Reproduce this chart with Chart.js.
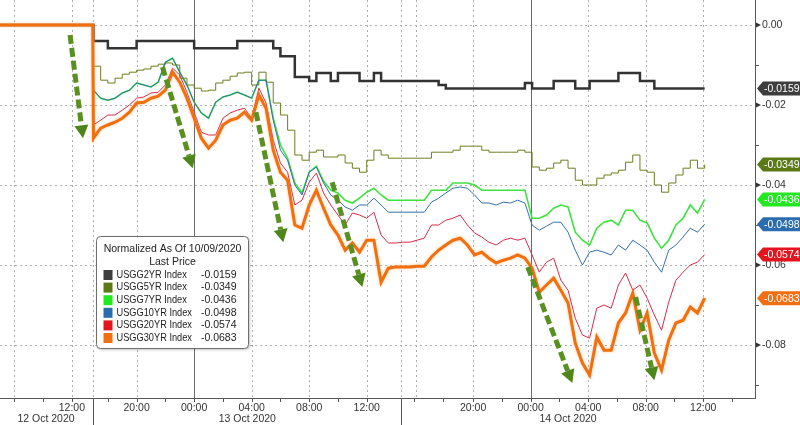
<!DOCTYPE html>
<html>
<head>
<meta charset="utf-8">
<title>US Treasury yields, normalized</title>
<script src="https://cdn.jsdelivr.net/npm/chart.js"></script>
<style>
  html, body { margin: 0; padding: 0; background: #fff; }
  #wrap { width: 800px; height: 425px; }
</style>
</head>
<body>
<div id="wrap"><canvas id="chart" width="800" height="425"></canvas></div>
<script>
// chart time in hours (session gaps squeezed out), one sample every half hour
var hours = [0, 6.45,
  6.5, 7, 7.5, 8, 8.5, 9, 9.5, 10, 10.5, 11, 11.5, 12, 12.5, 13, 13.5, 14, 14.5, 15, 15.5, 16, 16.5, 17,
  17.5, 18, 18.5, 19, 19.5, 20, 20.5, 21, 21.5, 22, 22.5, 23, 23.5, 24, 24.5, 25, 25.5, 26, 26.5, 27, 27.5, 28,
  28.5, 29, 29.5, 30, 30.5, 31, 31.5, 32, 32.5, 33, 33.5, 34, 34.5, 35, 35.5, 36, 36.5, 37, 37.5, 38, 38.5,
  39, 39.5, 40, 40.5, 41, 41.5, 42, 42.5, 43, 43.5, 44, 44.5, 45, 45.5, 46, 46.5, 47, 47.5, 48, 48.5, 49];

var usgg2yr = [0, 0,
  -0.0040,-0.0040,-0.0058,-0.0058,-0.0058,-0.0058,-0.0040,-0.0040,-0.0040,-0.0040,-0.0040,-0.0040,-0.0040,-0.0040,-0.0058,-0.0058,-0.0058,-0.0058,-0.0058,-0.0058,-0.0040,-0.0040,
  -0.0040,-0.0040,-0.0040,-0.0058,-0.0078,-0.0078,-0.0130,-0.0130,-0.0140,-0.0120,-0.0120,-0.0140,-0.0120,-0.0120,-0.0120,-0.0140,-0.0140,-0.0120,-0.0140,-0.0140,-0.0140,-0.0140,
  -0.0140,-0.0140,-0.0140,-0.0140,-0.0150,-0.0159,-0.0159,-0.0159,-0.0159,-0.0159,-0.0159,-0.0159,-0.0159,-0.0159,-0.0159,-0.0159,-0.0145,-0.0159,-0.0159,-0.0159,-0.0140,
  -0.0140,-0.0140,-0.0159,-0.0159,-0.0140,-0.0140,-0.0140,-0.0140,-0.0120,-0.0120,-0.0120,-0.0140,-0.0140,-0.0159,-0.0159,-0.0159,-0.0159,-0.0159,-0.0159,-0.0159,-0.0159];

var usgg5yr = [0, 0,
  -0.0103,-0.0138,-0.0145,-0.0133,-0.0123,-0.0118,-0.0113,-0.0110,-0.0103,-0.0098,-0.0095,-0.0100,-0.0133,-0.0150,-0.0158,-0.0165,-0.0163,-0.0145,-0.0138,-0.0128,-0.0120,-0.0118,
  -0.0150,-0.0118,-0.0143,-0.0195,-0.0225,-0.0263,-0.0325,-0.0338,-0.0318,-0.0313,-0.0330,-0.0330,-0.0325,-0.0345,-0.0358,-0.0368,-0.0338,-0.0313,-0.0325,-0.0333,-0.0333,-0.0333,
  -0.0333,-0.0333,-0.0333,-0.0318,-0.0318,-0.0318,-0.0313,-0.0303,-0.0303,-0.0303,-0.0313,-0.0318,-0.0318,-0.0318,-0.0318,-0.0313,-0.0318,-0.0355,-0.0363,-0.0358,-0.0345,
  -0.0338,-0.0358,-0.0388,-0.0400,-0.0400,-0.0383,-0.0375,-0.0370,-0.0363,-0.0343,-0.0325,-0.0363,-0.0368,-0.0400,-0.0418,-0.0395,-0.0375,-0.0358,-0.0338,-0.0358,-0.0349];

var usgg7yr = [0, 0,
  -0.0163,-0.0183,-0.0188,-0.0183,-0.0170,-0.0163,-0.0145,-0.0150,-0.0155,-0.0143,-0.0093,-0.0083,-0.0118,-0.0150,-0.0193,-0.0220,-0.0233,-0.0193,-0.0180,-0.0175,-0.0168,-0.0175,
  -0.0183,-0.0138,-0.0138,-0.0233,-0.0300,-0.0333,-0.0395,-0.0420,-0.0368,-0.0353,-0.0390,-0.0413,-0.0420,-0.0438,-0.0445,-0.0433,-0.0418,-0.0408,-0.0425,-0.0438,-0.0438,-0.0438,
  -0.0438,-0.0438,-0.0438,-0.0413,-0.0413,-0.0413,-0.0395,-0.0395,-0.0395,-0.0400,-0.0413,-0.0413,-0.0413,-0.0413,-0.0413,-0.0413,-0.0413,-0.0483,-0.0483,-0.0475,-0.0458,
  -0.0450,-0.0455,-0.0518,-0.0538,-0.0550,-0.0508,-0.0493,-0.0488,-0.0500,-0.0463,-0.0463,-0.0488,-0.0495,-0.0533,-0.0558,-0.0538,-0.0500,-0.0483,-0.0450,-0.0470,-0.0436];

var usgg10yr = [0, 0,
  -0.0163,-0.0183,-0.0188,-0.0183,-0.0170,-0.0163,-0.0145,-0.0150,-0.0155,-0.0143,-0.0093,-0.0083,-0.0118,-0.0150,-0.0193,-0.0220,-0.0233,-0.0193,-0.0180,-0.0175,-0.0168,-0.0175,
  -0.0183,-0.0138,-0.0138,-0.0238,-0.0313,-0.0338,-0.0400,-0.0425,-0.0368,-0.0355,-0.0395,-0.0425,-0.0438,-0.0455,-0.0463,-0.0450,-0.0450,-0.0433,-0.0450,-0.0468,-0.0468,-0.0468,
  -0.0468,-0.0468,-0.0468,-0.0443,-0.0433,-0.0420,-0.0408,-0.0405,-0.0408,-0.0425,-0.0445,-0.0445,-0.0450,-0.0443,-0.0445,-0.0438,-0.0445,-0.0500,-0.0513,-0.0503,-0.0493,
  -0.0493,-0.0518,-0.0563,-0.0600,-0.0568,-0.0563,-0.0568,-0.0575,-0.0550,-0.0563,-0.0538,-0.0550,-0.0563,-0.0593,-0.0618,-0.0563,-0.0550,-0.0530,-0.0508,-0.0518,-0.0498];

var usgg20yr = [0, 0,
  -0.0250,-0.0238,-0.0225,-0.0225,-0.0213,-0.0200,-0.0183,-0.0180,-0.0170,-0.0168,-0.0150,-0.0108,-0.0125,-0.0168,-0.0218,-0.0268,-0.0275,-0.0275,-0.0233,-0.0220,-0.0213,-0.0208,
  -0.0233,-0.0158,-0.0195,-0.0288,-0.0345,-0.0368,-0.0450,-0.0438,-0.0393,-0.0370,-0.0420,-0.0450,-0.0475,-0.0500,-0.0470,-0.0475,-0.0483,-0.0468,-0.0525,-0.0545,-0.0545,-0.0543,
  -0.0543,-0.0538,-0.0533,-0.0500,-0.0500,-0.0488,-0.0483,-0.0475,-0.0500,-0.0520,-0.0530,-0.0543,-0.0550,-0.0538,-0.0533,-0.0538,-0.0533,-0.0575,-0.0618,-0.0593,-0.0583,
  -0.0638,-0.0663,-0.0733,-0.0775,-0.0783,-0.0708,-0.0700,-0.0708,-0.0650,-0.0620,-0.0663,-0.0650,-0.0683,-0.0725,-0.0763,-0.0693,-0.0638,-0.0618,-0.0600,-0.0593,-0.0574];

var usgg30yr = [0, 0,
  -0.0283,-0.0258,-0.0250,-0.0243,-0.0233,-0.0218,-0.0195,-0.0193,-0.0183,-0.0178,-0.0163,-0.0118,-0.0143,-0.0183,-0.0233,-0.0283,-0.0308,-0.0288,-0.0250,-0.0238,-0.0233,-0.0218,
  -0.0238,-0.0175,-0.0208,-0.0313,-0.0368,-0.0388,-0.0500,-0.0508,-0.0450,-0.0413,-0.0458,-0.0500,-0.0525,-0.0563,-0.0545,-0.0568,-0.0538,-0.0538,-0.0643,-0.0608,-0.0605,-0.0605,
  -0.0605,-0.0603,-0.0603,-0.0580,-0.0563,-0.0550,-0.0538,-0.0533,-0.0550,-0.0575,-0.0568,-0.0583,-0.0595,-0.0588,-0.0583,-0.0575,-0.0583,-0.0608,-0.0668,-0.0650,-0.0633,
  -0.0663,-0.0695,-0.0795,-0.0845,-0.0875,-0.0780,-0.0813,-0.0813,-0.0745,-0.0720,-0.0670,-0.0763,-0.0720,-0.0820,-0.0863,-0.0788,-0.0745,-0.0738,-0.0705,-0.0720,-0.0683];

var seriesNames = ['USGG2YR Index', 'USGG5YR Index', 'USGG7YR Index', 'USGG10YR Index', 'USGG20YR Index', 'USGG30YR Index'];
var seriesValues = [usgg2yr, usgg5yr, usgg7yr, usgg10yr, usgg20yr, usgg30yr];

// axis labels
var timeLabels = ['12:00', '20:00', '00:00', '04:00', '08:00', '12:00', '20:00', '00:00', '04:00', '08:00', '12:00'];
var timeLabelHours = [5.0, 9.5, 13.5, 17.5, 21.5, 25.5, 32.9, 36.9, 40.9, 44.9, 48.9];
var dayLabels = ['12 Oct 2020', '13 Oct 2020', '14 Oct 2020'];
var dayLabelHours = [3.2, 17.2, 39.5];
var daySplitHours = [6.45, 27.85];
var minorTickHours = [1, 3, 5, 7.5, 9.5, 11.5, 13.5, 15.5, 17.5, 19.5, 21.5, 23.5, 25.5, 28.8, 30.8, 32.9, 34.9, 36.9, 38.9, 40.9, 42.9, 44.9, 46.9, 48.9, 50.9];
var gridHours = [1, 5, 6.45, 9.5, 17.5, 21.5, 25.5, 27.85, 28.9, 32.9, 40.9, 44.9, 48.9];
var midnightHours = [13.5, 36.9];
var yTickValues = [0, -0.01, -0.02, -0.03, -0.04, -0.05, -0.06, -0.07, -0.08, -0.09];
var yLabelValues = [0, -0.02, -0.04, -0.06, -0.08];

// green arrows drawn on the chart: [hour, value] start and end
var arrowFrom = [[4.87, -0.0025], [11.3, -0.0105], [17.8, -0.0218], [23.1, -0.0393], [36.7, -0.0605], [44.2, -0.0680]];
var arrowTo = [[5.77, -0.0283], [13.4, -0.0358], [19.7, -0.0543], [25.2, -0.0655], [39.8, -0.0895], [45.5, -0.0888]];

var lineColors = ['#333333', '#6f7e22', '#3ee23e', '#3470a8', '#d52c48', '#f0700f'];
var tagColors = ['#3d3d3d', '#5b7a17', '#22e822', '#2b6cae', '#e3141d', '#f06f12'];
var lineWidths = [2.5, 1, 1.6, 1, 1, 3];
var stepLines = [true, true, false, false, false, false];
var drawOrder = [5, 3, 4, 2, 1, 0];

var FONT = '10.5px "Liberation Sans", Arial, sans-serif';

var datasets = seriesValues.map(function (vals, i) {
    return {
        label: seriesNames[i],
        data: vals.map(function (v, k) { return { x: hours[k], y: v }; }),
        borderColor: lineColors[i],
        borderWidth: lineWidths[i],
        stepped: stepLines[i],
        pointRadius: 0,
        tension: 0,
        order: drawOrder[i]
    };
});

function seg(ctx, x1, y1, x2, y2) {
    ctx.beginPath(); ctx.moveTo(x1, y1); ctx.lineTo(x2, y2); ctx.stroke();
}

function drawArrow(ctx, x1, y1, x2, y2) {
    var ang = Math.atan2(y2 - y1, x2 - x1);
    var headLen = 13, headW = 7;
    var bx = x2 - headLen * Math.cos(ang), by = y2 - headLen * Math.sin(ang);
    ctx.strokeStyle = '#5a8f22';
    ctx.lineWidth = 5;
    ctx.lineCap = 'butt';
    ctx.setLineDash([9, 4]);
    seg(ctx, x1, y1, bx, by);
    ctx.setLineDash([]);
    ctx.fillStyle = '#4f861b';
    ctx.beginPath();
    ctx.moveTo(x2, y2);
    ctx.lineTo(bx + headW * Math.sin(ang), by - headW * Math.cos(ang));
    ctx.lineTo(bx - headW * Math.sin(ang), by + headW * Math.cos(ang));
    ctx.closePath();
    ctx.fill();
}

var overlay = {
    id: 'overlay',
    beforeDatasetsDraw: function (chart) {
        var ctx = chart.ctx, a = chart.chartArea, x = chart.scales.x, y = chart.scales.y;
        ctx.save();
        ctx.lineWidth = 1;
        ctx.strokeStyle = '#b0b0b0';
        ctx.setLineDash([2, 3]);
        yLabelValues.forEach(function (v) {
            var py = Math.round(y.getPixelForValue(v)) + 0.5;
            seg(ctx, a.left, py, a.right, py);
        });
        gridHours.forEach(function (h) {
            var px = Math.round(x.getPixelForValue(h)) + 0.5;
            seg(ctx, px, a.top, px, a.bottom);
        });
        ctx.setLineDash([]);
        ctx.strokeStyle = '#6a6a6a';
        midnightHours.forEach(function (h) {
            var px = Math.round(x.getPixelForValue(h)) + 0.5;
            seg(ctx, px, a.top, px, a.bottom);
        });
        ctx.restore();
    },
    beforeDatasetDraw: function (chart, args) {
        if (args.index === 5) {
            chart.ctx.shadowColor = 'rgba(255,160,90,0.6)';
            chart.ctx.shadowBlur = 3;
        }
    },
    afterDatasetDraw: function (chart, args) {
        if (args.index === 5) {
            chart.ctx.shadowColor = 'rgba(0,0,0,0)';
            chart.ctx.shadowBlur = 0;
        }
    },
    afterDatasetsDraw: function (chart) {
        var ctx = chart.ctx, x = chart.scales.x, y = chart.scales.y;
        ctx.save();
        for (var i = 0; i < arrowFrom.length; i++) {
            drawArrow(ctx,
                x.getPixelForValue(arrowFrom[i][0]), y.getPixelForValue(arrowFrom[i][1]),
                x.getPixelForValue(arrowTo[i][0]), y.getPixelForValue(arrowTo[i][1]));
        }
        ctx.restore();
    },
    afterDraw: function (chart) {
        var ctx = chart.ctx, a = chart.chartArea, x = chart.scales.x, y = chart.scales.y;
        var W = chart.width, H = chart.height;
        ctx.save();

        // axis frame
        ctx.strokeStyle = '#555';
        ctx.lineWidth = 1;
        seg(ctx, a.right + 0.5, 0, a.right + 0.5, a.bottom + 1);
        seg(ctx, 0, a.bottom + 0.5, a.right + 1, a.bottom + 0.5);

        // y ticks and labels
        ctx.fillStyle = '#333';
        ctx.font = FONT;
        ctx.textAlign = 'left';
        ctx.textBaseline = 'middle';
        yTickValues.forEach(function (v) {
            var py = Math.round(y.getPixelForValue(v)) + 0.5;
            seg(ctx, a.right, py, a.right + 4, py);
        });
        yLabelValues.forEach(function (v) {
            var py = y.getPixelForValue(v);
            ctx.beginPath();
            ctx.moveTo(a.right + 1, py - 2.5); ctx.lineTo(a.right + 6, py); ctx.lineTo(a.right + 1, py + 2.5);
            ctx.closePath(); ctx.fill();
            ctx.fillText(v.toFixed(2), a.right + 7, py + 0.5);
        });

        // x ticks, separators, labels
        minorTickHours.forEach(function (h) {
            var px = Math.round(x.getPixelForValue(h)) + 0.5;
            seg(ctx, px, a.bottom, px, a.bottom + 4);
        });
        daySplitHours.forEach(function (h) {
            var px = Math.round(x.getPixelForValue(h)) + 0.5;
            seg(ctx, px, a.bottom, px, H);
        });
        ctx.textAlign = 'center';
        ctx.textBaseline = 'middle';
        timeLabels.forEach(function (t, i) {
            ctx.fillText(t, x.getPixelForValue(timeLabelHours[i]), a.bottom + 10);
        });
        dayLabels.forEach(function (t, i) {
            ctx.fillText(t, x.getPixelForValue(dayLabelHours[i]), a.bottom + 21);
        });

        // last-value tags
        ctx.textAlign = 'left';
        seriesValues.forEach(function (vals, i) {
            var last = vals[vals.length - 1];
            var py = y.getPixelForValue(last);
            var x0 = a.right + 2;
            ctx.fillStyle = tagColors[i];
            ctx.beginPath();
            ctx.moveTo(x0, py);
            ctx.lineTo(x0 + 6, py - 7);
            ctx.lineTo(W, py - 7);
            ctx.lineTo(W, py + 7);
            ctx.lineTo(x0 + 6, py + 7);
            ctx.closePath();
            ctx.fill();
            ctx.fillStyle = '#fff';
            ctx.fillText(last.toFixed(4), x0 + 7, py + 0.5);
        });

        // legend box
        var bx = 96.5, by = 236.5, bw = 152, bh = 112;
        ctx.save();
        ctx.shadowColor = 'rgba(0,0,0,0.3)';
        ctx.shadowBlur = 3;
        ctx.shadowOffsetX = 1;
        ctx.shadowOffsetY = 1;
        ctx.fillStyle = '#fff';
        ctx.beginPath();
        ctx.roundRect(bx, by, bw, bh, 4);
        ctx.fill();
        ctx.restore();
        ctx.strokeStyle = '#6d6d6d';
        ctx.beginPath();
        ctx.roundRect(bx, by, bw, bh, 4);
        ctx.stroke();

        ctx.fillStyle = '#222';
        ctx.textAlign = 'center';
        ctx.fillText('Normalized As Of 10/09/2020', bx + bw / 2, by + 13);
        ctx.fillText('Last Price', bx + bw / 2, by + 25.5);
        seriesValues.forEach(function (vals, i) {
            var ry = by + 38.5 + i * 12.6;
            ctx.fillStyle = tagColors[i];
            ctx.fillRect(bx + 7, ry - 5, 9, 10);
            ctx.fillStyle = '#222';
            ctx.textAlign = 'left';
            // the terminal font is narrower than Liberation Sans: squeeze names a little
            ctx.fillText(seriesNames[i], bx + 20, ry, ctx.measureText(seriesNames[i]).width * 0.88);
            ctx.textAlign = 'right';
            ctx.fillText(vals[vals.length - 1].toFixed(4), bx + 140, ry);
        });

        ctx.restore();
    }
};

new Chart(document.getElementById('chart'), {
    type: 'line',
    data: { datasets: datasets },
    options: {
        responsive: false,
        animation: false,
        layout: { padding: { left: 0, right: 45, top: 0, bottom: 27 } },
        scales: {
            x: { type: 'linear', min: 0, max: 52.5, display: false },
            y: { type: 'linear', min: -0.09325, max: 0.00625, display: false }
        },
        plugins: {
            legend: { display: false },
            tooltip: { enabled: false }
        }
    },
    plugins: [overlay]
});
</script>
</body>
</html>
